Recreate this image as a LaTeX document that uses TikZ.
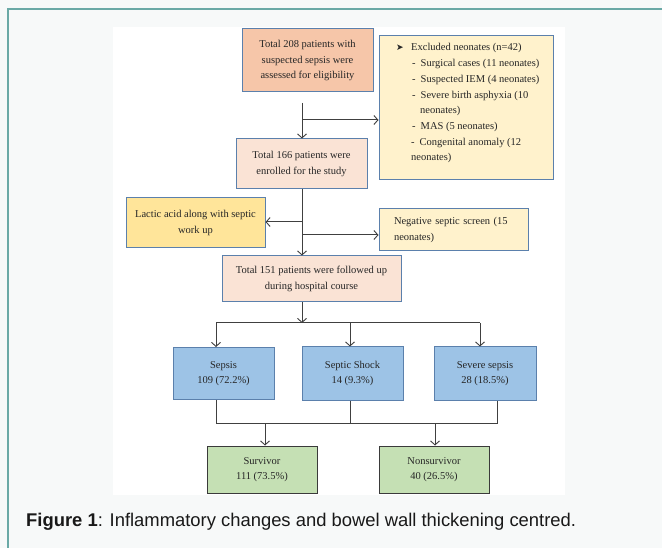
\documentclass[tikz,border=0pt]{standalone}
\usepackage{fontspec}
\setmainfont{Liberation Serif}
\newfontfamily\capfont{Liberation Sans}
\newfontfamily\djv{DejaVu Sans}
\usetikzlibrary{arrows.meta}
\definecolor{bgc}{HTML}{F7F9F9}
\definecolor{framec}{HTML}{6AA9A6}
\definecolor{bordc}{HTML}{5B80AC}
\definecolor{darkb}{HTML}{3A3A3A}
\definecolor{connc}{HTML}{404040}
\definecolor{salmon}{HTML}{F6C6A9}
\definecolor{peach}{HTML}{FAE3D5}
\definecolor{paley}{HTML}{FFF2CC}
\definecolor{gold}{HTML}{FFE59A}
\definecolor{blueb}{HTML}{9DC3E6}
\definecolor{greenb}{HTML}{C5E0B4}
\tikzset{
  boxbase/.style={draw=bordc, line width=1pt, inner sep=0pt, align=center,
    font=\fontsize{10.5}{15.5}\selectfont, text=black!85},
  conn/.style={draw=connc, line width=1pt},
  arr/.style={conn, -{Straight Barb[length=4pt,width=9pt,line width=0.9pt]}},
}
\begin{document}
\begin{tikzpicture}[x=1pt,y=-1pt]
\useasboundingbox (0,0) rectangle (662,548);
\fill[bgc] (0,0) rectangle (662,548);
\fill[white] (113,27) rectangle (565,495);
\draw[framec, line width=2pt] (8,548) -- (8,9) -- (663,9);

% boxes
\node[boxbase, fill=salmon, minimum width=131pt, minimum height=63pt] (a) at (307.5,60.5)
  {Total 208 patients with\\suspected sepsis were\\assessed for eligibility};
\node[boxbase, fill=paley, minimum width=174pt, minimum height=144pt] (excl) at (466,108) {};
\node[anchor=north west, align=left, inner sep=0pt, font=\fontsize{10.5}{15.7}\selectfont, text=black!85] (exclt) at (396,43.5)
  {{\djv\fontsize{9}{9}\selectfont ➤}\hspace{7.5pt}Excluded neonates (n=42)\\
   \hspace{16pt}-\hspace{5pt}Surgical cases (11 neonates)\\
   \hspace{16pt}-\hspace{5pt}Suspected IEM (4 neonates)\\
   \hspace{16pt}-\hspace{5pt}Severe birth asphyxia (10\\
   \hspace{24pt}neonates)\\
   \hspace{16pt}-\hspace{5pt}MAS (5 neonates)\\
   \hspace{15pt}-\hspace{5pt}Congenital anomaly (12\\
   \hspace{15pt}neonates)};
\node[boxbase, fill=peach, minimum width=131pt, minimum height=50pt] (b) at (301.5,164)
  {Total 166 patients were\\enrolled for the study};
\node[boxbase, fill=gold, minimum width=139pt, minimum height=50pt] (lac) at (195.5,223)
  {Lactic acid along with septic\\work up};
\node[boxbase, fill=paley, minimum width=149pt, minimum height=42pt, align=left, text width=119pt] (neg) at (453.5,230)
  {Negative septic screen (15\\neonates)};
\node[boxbase, fill=peach, minimum width=179pt, minimum height=46pt] (d) at (311.5,279)
  {Total 151 patients were followed up\\during hospital course};
\node[boxbase, fill=blueb, minimum width=101pt, minimum height=52pt] (sep) at (223.5,373.5)
  {Sepsis\\109 (72.2\%)};
\node[boxbase, fill=blueb, minimum width=101pt, minimum height=53pt] (shock) at (352.5,373.5)
  {Septic Shock\\14 (9.3\%)};
\node[boxbase, fill=blueb, minimum width=102pt, minimum height=53pt] (sev) at (485,373.5)
  {Severe sepsis\\28 (18.5\%)};
\node[boxbase, draw=darkb, fill=greenb, minimum width=110pt, minimum height=47pt] (surv) at (262,469.5)
  {Survivor\\111 (73.5\%)};
\node[boxbase, draw=darkb, fill=greenb, minimum width=110pt, minimum height=47pt] (nons) at (434,469.5)
  {Nonsurvivor\\40 (26.5\%)};

% connectors
\coordinate (s1) at (302,103);
\coordinate (j1) at (302,120);
\coordinate (j2) at (302,222);
\coordinate (j3) at (302,235);
\coordinate (j4) at (302,323);
\coordinate (hl) at (216,323);
\coordinate (hm) at (350,323);
\coordinate (hr) at (480,323);
\coordinate (bl) at (216,423);
\coordinate (bm) at (350,423);
\coordinate (br) at (497,423);
\coordinate (ol) at (265,423);
\coordinate (or) at (435,423);

\draw[arr] (s1) -- (s1 |- b.north);
\draw[arr] (j1) -- (j1 -| excl.west);
\draw[arr] (b.south -| s1) -- (s1 |- d.north);
\draw[arr] (j2) -- (j2 -| lac.east);
\draw[arr] (j3) -- (j3 -| neg.west);
\draw[arr] (s1 |- d.south) -- (j4);
\draw[conn] (hl) -- (hr);
\draw[arr] (hl) -- (hl |- sep.north);
\draw[arr] (hm) -- (hm |- shock.north);
\draw[arr] (hr) -- (hr |- sev.north);
\draw[conn] (bl |- sep.south) -- (bl) -- (br) -- (br |- sev.south);
\draw[conn] (bm |- shock.south) -- (bm);
\draw[arr] (ol) -- (ol |- surv.north);
\draw[arr] (or) -- (or |- nons.north);

% caption
\node[anchor=base west, inner sep=0pt, font=\capfont\fontsize{18.4}{20}\selectfont, text=black!90] (cap) at (26,526)
  {\textbf{Figure 1}: Inflammatory changes and bowel wall thickening centred.};
\end{tikzpicture}
\end{document}
